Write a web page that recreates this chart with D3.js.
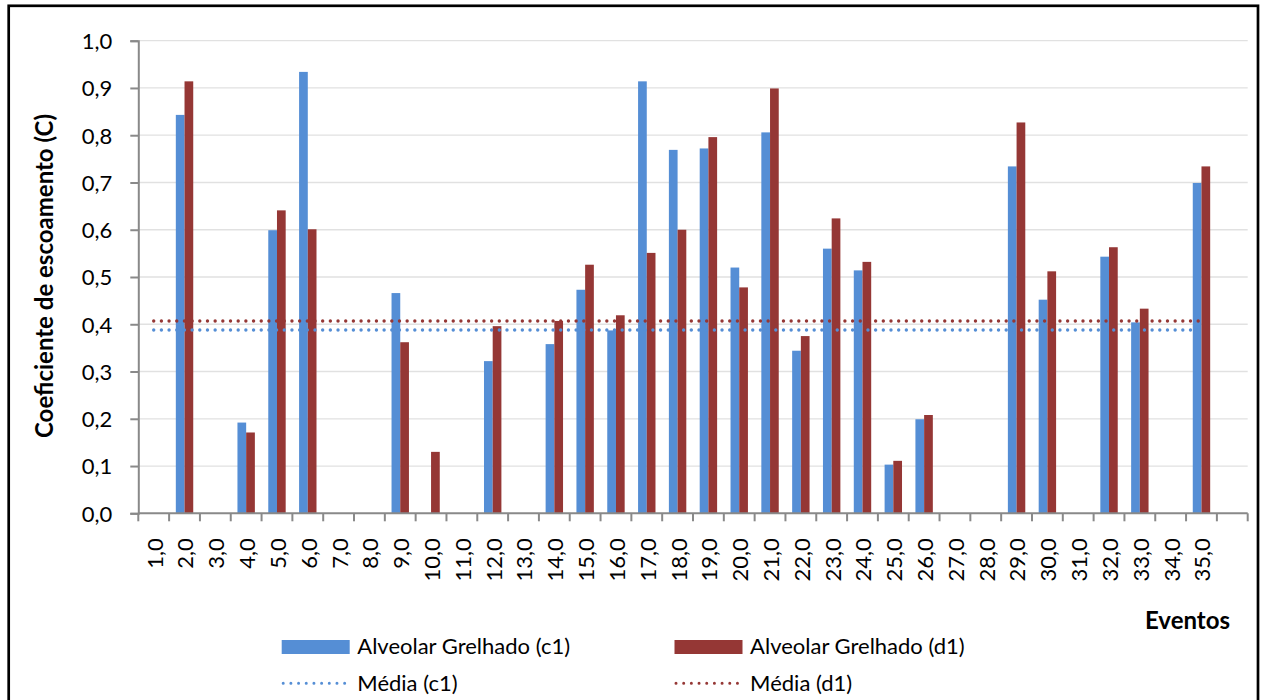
<!DOCTYPE html>
<html>
<head>
<meta charset="utf-8">
<script src="https://cdn.jsdelivr.net/npm/d3@7"></script>
<style>
  html, body { margin: 0; padding: 0; background: #fff; }
  svg { display: block; font-family: Lato, "Open Sans", sans-serif; }
</style>
</head>
<body>
<svg id="chart" width="1263" height="700"></svg>
<script>
// Eventos (category slots on the x axis; the last slot is an empty one)
const events = [1,2,3,4,5,6,7,8,9,10,11,12,13,14,15,16,17,18,19,20,21,22,23,24,25,26,27,28,29,30,31,32,33,34,35];
const slots = events.concat([36]);

// Coeficiente de escoamento per event (null = no value for that event)
const c1 = [null,0.843,null,0.192,0.599,0.934,null,null,0.466,null,null,0.322,null,0.358,0.473,0.387,0.914,0.769,0.772,0.520,0.806,0.344,0.560,0.514,0.103,0.199,null,null,0.734,0.452,null,0.543,0.404,null,0.699];
const d1 = [null,0.914,null,0.171,0.641,0.601,null,null,0.362,0.130,null,0.396,null,0.407,0.526,0.419,0.551,0.600,0.796,0.478,0.899,0.375,0.624,0.532,0.111,0.208,null,null,0.827,0.512,null,0.563,0.433,null,0.734];

// Averages drawn as dotted lines across the events
const mediaC1 = 0.388;
const mediaD1 = 0.407;

const yTicks = [0,0.1,0.2,0.3,0.4,0.5,0.6,0.7,0.8,0.9,1.0];

const seriesNames = ["Alveolar Grelhado (c1)", "Alveolar Grelhado (d1)"];
const mediaNames = ["Média (c1)", "Média (d1)"];
const colors = ["#558ed5", "#953735"];

const locale = d3.formatLocale({decimal: ",", thousands: ".", grouping: [3], currency: ["", ""]});
const fmt = locale.format(".1f");

const svg = d3.select("#chart");

const plot = {left: 138.3, right: 1247.7, top: 40.7, bottom: 513.3};

const x = d3.scaleBand().domain(slots).range([plot.left, plot.right]).padding(0);
const xs = d3.scaleBand().domain([0, 1]).range([0, x.bandwidth()]).paddingInner(0).paddingOuter(0.77);
const y = d3.scaleLinear().domain([0, 1]).range([plot.bottom, plot.top]);

// outer frame
svg.append("rect")
  .attr("x", 8.7).attr("y", 5.8)
  .attr("width", 1249.3).attr("height", 720)
  .attr("fill", "#fff").attr("stroke", "#000").attr("stroke-width", 2.7);

// horizontal gridlines
svg.append("g").selectAll("line").data(yTicks.slice(1)).join("line")
  .attr("x1", plot.left).attr("x2", plot.right)
  .attr("y1", d => y(d)).attr("y2", d => y(d))
  .attr("stroke", "#e1e1e1").attr("stroke-width", 1.3);

// bars
const barData = [];
events.forEach((e, i) => {
  [c1[i], d1[i]].forEach((v, s) => {
    if (v != null) barData.push({e, s, v});
  });
});
svg.append("g").selectAll("rect").data(barData).join("rect")
  .attr("x", d => x(d.e) + xs(d.s))
  .attr("width", xs.bandwidth())
  .attr("y", d => y(d.v))
  .attr("height", d => y(0) - y(d.v))
  .attr("fill", d => colors[d.s]);

// y axis
const yAxis = svg.append("g")
  .attr("transform", `translate(${plot.left},0)`)
  .call(d3.axisLeft(y).tickValues(yTicks).tickFormat(fmt).tickSize(8).tickPadding(18));
yAxis.select(".domain").attr("stroke", "#898989").attr("stroke-width", 2);
yAxis.selectAll(".tick line").attr("stroke", "#898989").attr("stroke-width", 2);
yAxis.selectAll(".tick text")
  .attr("fill", "#000").attr("font-size", 22).attr("font-family", "Lato, sans-serif")
  .attr("dy", "0.36em");

// x axis: ticks on the slot boundaries
const xAxis = svg.append("g").attr("transform", `translate(0,${plot.bottom})`);
xAxis.append("line")
  .attr("x1", plot.left).attr("x2", plot.right)
  .attr("stroke", "#898989").attr("stroke-width", 2);
const boundaries = slots.map(s => x(s)).concat([plot.right]);
xAxis.selectAll("line.tk").data(boundaries).join("line")
  .attr("class", "tk")
  .attr("x1", d => d).attr("x2", d => d)
  .attr("y1", 0).attr("y2", 8)
  .attr("stroke", "#898989").attr("stroke-width", 2);
xAxis.selectAll("text").data(events).join("text")
  .attr("transform", d => `translate(${x(d) + x.bandwidth() / 2 + 1},${25}) rotate(-90)`)
  .attr("text-anchor", "end")
  .attr("dy", "0.36em")
  .attr("font-size", 22)
  .attr("fill", "#000")
  .text(d => fmt(d));

// average lines, from the first to the last event
const mediaLine = d3.line().x(d => x(d.e) + x.bandwidth() / 2).y(d => y(d.v));
[[mediaC1, 0], [mediaD1, 1]].forEach(([m, s]) => {
  const pts = [{e: events[0], v: m}, {e: events[events.length - 1], v: m}];
  svg.append("path")
    .attr("d", mediaLine(pts))
    .attr("fill", "none")
    .attr("stroke", colors[s])
    .attr("stroke-width", 3.4)
    .attr("stroke-linecap", "round")
    .attr("stroke-dasharray", "0.01 7.67");
});

// axis titles
svg.append("text")
  .attr("transform", "translate(53,276) rotate(-90)")
  .attr("text-anchor", "middle")
  .attr("font-size", 24).attr("font-weight", "bold")
  .attr("fill", "#000")
  .text("Coeficiente de escoamento (C)");

svg.append("text")
  .attr("x", 1230).attr("y", 629.3)
  .attr("text-anchor", "end")
  .attr("font-size", 24).attr("font-weight", "bold")
  .attr("fill", "#000")
  .text("Eventos");

// legend
const legend = svg.append("g");
const legendCols = [281.7, 674.5];
seriesNames.forEach((name, s) => {
  const lx = legendCols[s];
  legend.append("rect")
    .attr("x", lx).attr("y", 640)
    .attr("width", 68).attr("height", 14)
    .attr("fill", colors[s]);
  legend.append("text")
    .attr("x", lx + 75.6).attr("y", 654.3)
    .attr("font-size", 22).attr("fill", "#000")
    .text(name);
});
mediaNames.forEach((name, s) => {
  const lx = legendCols[s];
  legend.append("line")
    .attr("x1", lx + 1.5).attr("x2", lx + 64)
    .attr("y1", 683.3).attr("y2", 683.3)
    .attr("stroke", colors[s])
    .attr("stroke-width", 3)
    .attr("stroke-linecap", "round")
    .attr("stroke-dasharray", "0.01 7.67");
  legend.append("text")
    .attr("x", lx + 75.6).attr("y", 691)
    .attr("font-size", 22).attr("fill", "#000")
    .text(name);
});
</script>
</body>
</html>
